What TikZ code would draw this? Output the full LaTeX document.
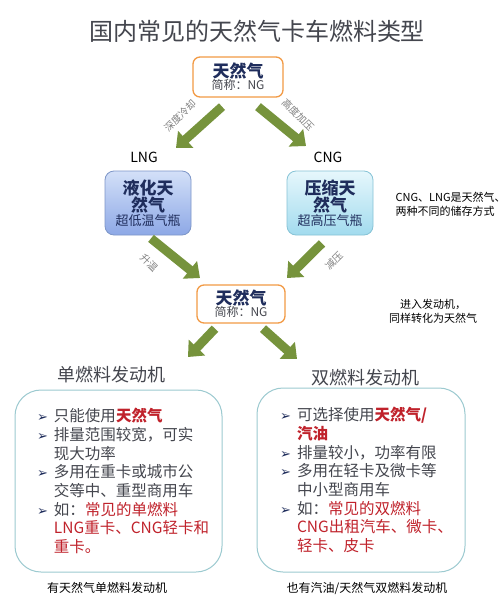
\documentclass[tikz,border=0pt]{standalone}
\usepackage{fontspec}
\setmainfont{Noto Sans CJK SC}
\newfontfamily\dejavu{DejaVu Sans}
\usepackage{xcolor}
\usetikzlibrary{arrows.meta,positioning}
\definecolor{ngorange}{HTML}{F29A45}
\definecolor{nggreen}{HTML}{76933C}
\definecolor{ngnavy}{HTML}{1F2D5C}
\definecolor{ngred}{HTML}{C0222B}
\definecolor{nggray}{HTML}{44464E}
\definecolor{ngteal}{HTML}{9CCAD0}
\definecolor{lngtop}{HTML}{D3E0F8}
\definecolor{lngbot}{HTML}{8DA8E6}
\definecolor{lngline}{HTML}{7D96C8}
\definecolor{cngtop}{HTML}{E6F7FC}
\definecolor{cngbot}{HTML}{A2DBEE}
\definecolor{cngline}{HTML}{86C3D6}
\newcommand{\bul}{\makebox[17pt][l]{\dejavu\color{ngnavy}\fontsize{13}{13}\selectfont ➢}}
\newcommand{\ind}{\hspace*{17pt}}
\newcommand{\hd}[1]{{\fontsize{17}{19}\selectfont\bfseries\color{ngnavy}#1}}
\newcommand{\sub}[1]{{\fontsize{12}{14}\selectfont\color{nggray}#1}}
\newcommand{\tank}[1]{{\fontsize{13}{15}\selectfont\color{ngnavy}#1}}
\tikzset{
  ngbox/.style={draw=ngorange, line width=1.3pt, rounded corners=7pt, fill=white,
    minimum width=90pt, minimum height=40pt, align=center, inner sep=1pt},
  gasbox/.style={draw=#1line, line width=0.8pt, rounded corners=9pt,
    top color=#1top, bottom color=#1bot,
    minimum width=86pt, minimum height=64pt, align=center, inner sep=1pt},
  garrow/.style={draw=nggreen, line width=9pt, -{Triangle[width=22pt,length=13pt]}},
  steplabel/.style={font=\fontsize{10}{10}\selectfont, text=gray, inner sep=0pt},
  fuelbox/.style={draw=ngteal, line width=1pt, rounded corners=26pt, align=left,
    font=\fontsize{15.5}{18.7}\selectfont, text=nggray},
  notetext/.style={font=\fontsize{11}{14}\selectfont, text=black, align=center},
  every picture/.style={line cap=butt, line join=miter}
}

\begin{document}
\begin{tikzpicture}[x=1pt,y=-1pt]
  \useasboundingbox (0,0) rectangle (500,600);
  \fill[white] (0,0) rectangle (500,600);
  % title
  \node[font=\fontsize{24}{24}\selectfont, text=nggray] (title) at (257,31) {国内常见的天然气卡车燃料类型};
  % natural gas boxes
  \node[ngbox] (ng1) at (238,77) {\hd{天然气}\\\sub{简称：NG}};
  \node[font=\fontsize{14}{14}\selectfont] (lnglab) at (144,157) {LNG};
  \node[font=\fontsize{14}{14}\selectfont] (cnglab) at (328,157) {CNG};
  \node[gasbox=lng] (lng) at (148,203) {\hd{液化天}\\\hd{然气}\\\tank{超低温气瓶}};
  \node[gasbox=cng] (cng) at (330,203) {\hd{压缩天}\\\hd{然气}\\\tank{超高压气瓶}};
  \node[ngbox, minimum width=88pt, minimum height=38pt] (ng2) at (241,304) {\hd{天然气}\\\sub{简称：NG}};
  % side notes
  \node[notetext, align=left, anchor=west] (note1) at (392,204) {CNG、LNG是天然气、\\两种不同的储存方式};
  \node[notetext] (note2) at (433,311) {进入发动机，\\同样转化为天然气};
  % arrow tips
  \coordinate (t1) at (176,148);
  \coordinate (t2) at (306,146);
  \coordinate (t3) at (200,278);
  \coordinate (t4) at (287,278);
  \coordinate (t5) at (188,357);
  \coordinate (t6) at (297,359);
  \draw[garrow] ([shift={(-16,9)}]ng1.south) -- (t1);
  \draw[garrow] ([shift={(20,9)}]ng1.south) -- (t2);
  \draw[garrow] ([shift={(3,3)}]lng.south) -- (t3);
  \draw[garrow] ([shift={(-8,8)}]cng.south) -- (t4);
  \draw[garrow] ([shift={(-26,5)}]ng2.south) -- (t5);
  \draw[garrow] ([shift={(22,5)}]ng2.south) -- (t6);
  \node[steplabel, rotate=45] (s1) at (180,116) {深度冷却};
  \node[steplabel, rotate=-45] (s2) at (298,115) {高度加压};
  \node[steplabel, rotate=-45] (s3) at (149,263) {升温};
  \node[steplabel, rotate=45] (s4) at (334,261) {减压};
  % engines
  \node[font=\fontsize{18}{18}\selectfont, text=nggray] (single) at (111,375) {单燃料发动机};
  \node[font=\fontsize{18}{18}\selectfont, text=nggray] (dual) at (365,378) {双燃料发动机};
  \node[fuelbox, minimum width=207pt, minimum height=182pt, text width=163pt, inner xsep=22pt] (sfuel) at (118.5,481)
    {\bul 只能使用{\bfseries\color{ngred}天然气}\\
     \bul 排量范围较宽，可实\\
     \ind 现大功率\\
     \bul 多用在重卡或城市公\\
     \ind 交等中、重型商用车\\
     \bul 如：{\color{ngred}常见的单燃料}\\
     \ind{\color{ngred}LNG重卡、CNG轻卡和}\\
     \ind{\color{ngred}重卡。}};
  \node[fuelbox, minimum width=208pt, minimum height=184pt, text width=162pt, inner xsep=23pt] (dfuel) at (361,480)
    {\bul 可选择使用{\bfseries\color{ngred}天然气/}\\
     \ind{\bfseries\color{ngred}汽油}\\
     \bul 排量较小，功率有限\\
     \bul 多用在轻卡及微卡等\\
     \ind 中小型商用车\\
     \bul 如：{\color{ngred}常见的双燃料}\\
     \ind{\color{ngred}CNG出租汽车、微卡、}\\
     \ind{\color{ngred}轻卡、皮卡}};
  \node[font=\fontsize{12}{12}\selectfont] (cap1) at (107,588) {有天然气单燃料发动机};
  \node[font=\fontsize{12}{12}\selectfont] (cap2) at (367,588) {也有汽油/天然气双燃料发动机};
\end{tikzpicture}
\end{document}
